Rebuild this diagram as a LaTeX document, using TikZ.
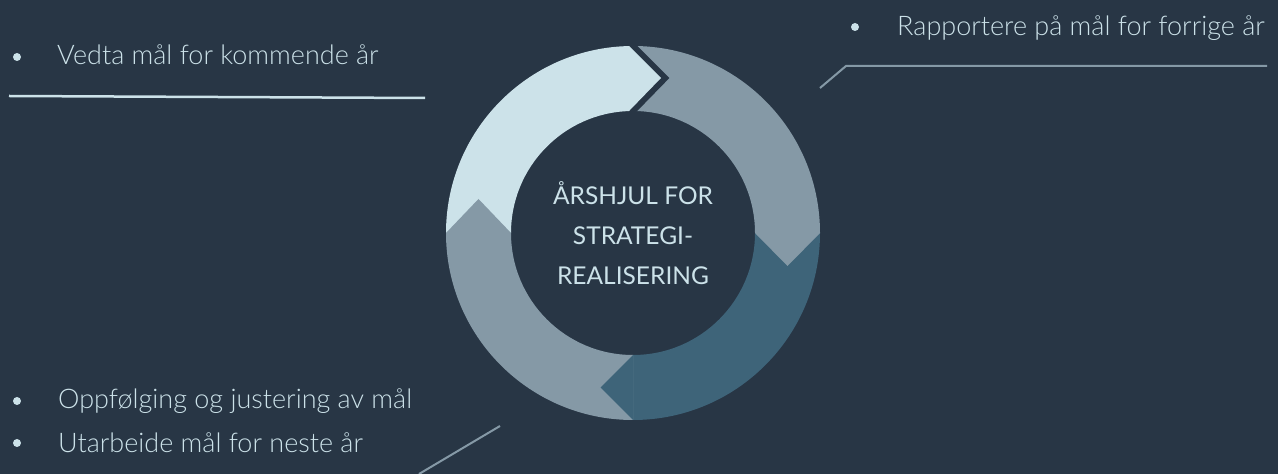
\documentclass[tikz,border=0pt]{standalone}
\usepackage{fontspec}
\setmainfont{Lato}
\newfontfamily\lightlato{Lato Light}
\usetikzlibrary{positioning,calc}
\definecolor{bgnavy}{HTML}{283645}
\definecolor{pale}{HTML}{CCE2E9}
\definecolor{slate}{HTML}{8599A6}
\definecolor{petrol}{HTML}{3E6479}
\tikzset{>=latex}
\tikzset{
    item/.style={anchor=base west, text=pale, inner sep=0pt, font=\lightlato\fontsize{27}{32}\selectfont},
    dot/.style={circle, fill=pale, inner sep=0pt, minimum size=8pt},
    rule/.style={line width=2pt, color=slate}
}

\begin{document}
\begin{tikzpicture}[x=1pt,y=1pt]
    
    \fill[bgnavy] (0,0) rectangle (1278,474);
    \useasboundingbox (0,0) rectangle (1278,474);
    
    \begin{scope}[shift={(633,241)}]
    \fill[petrol] (0:187) arc (0:-90:187) -- (-90:122) arc (-90:0:122) -- cycle;
    \fill[slate] (-90:187) arc (-90:-180:187) -- (180:122) arc (180:270:122) -- cycle;
    \fill[slate] (90:187) arc (90:0:187) -- (0:122) arc (0:90:122) -- cycle;
    \draw[bgnavy, line width=12pt, line join=miter] (-12,195) -- (28,155) -- (-12,114);
    \fill[pale] (180:187) arc (180:91.2:187) -- (28,155) -- (91.9:122) arc (91.9:180:122) -- cycle;
    % heads
    \fill[slate] (122,0) -- (154.5,-33) -- (187,0) -- cycle;
    \fill[petrol] (0,-122) -- (-32.5,-154.5) -- (0,-187) -- cycle;
    \fill[slate] (-187,0) -- (-154.5,34) -- (-122,0) -- cycle;
    \end{scope}
    
    \node [align=center, text=pale, font=\fontsize{24.5}{40}\selectfont] (hub) at (633,241) {ÅRSHJUL FOR\\STRATEGI-\\REALISERING};
    
    \node [dot] (d1) at (17,417) {};
    \node [item] (t1) at (57,409) {Vedta mål for kommende år};
    \node [dot] (d2) at (855,447) {};
    \node [item] (t2) at (897,438) {Rapportere på mål for forrige år};
    \node [dot] (d3) at (17,73) {};
    \node [item] (t3) at (58,65) {Oppfølging og justering av mål};
    \node [dot] (d4) at (17,31) {};
    \node [item] (t4) at (58,21) {Utarbeide mål for neste år};
    
    \coordinate (u1) at (9,378);
    \coordinate (u2) at (425,376);
    \coordinate (v1) at (820,386);
    \coordinate (v2) at (846,408);
    \coordinate (v3) at (1267,408);
    \coordinate (w1) at (500,48);
    \coordinate (w2) at (419,0);
    \draw[rule,color=pale,line width=2.5pt] (u1) -- (u2);
    \draw[rule] (v1) -- (v2) -- (v3);
    \draw[rule] (w1) -- (w2);
    
\end{tikzpicture}
\end{document}
